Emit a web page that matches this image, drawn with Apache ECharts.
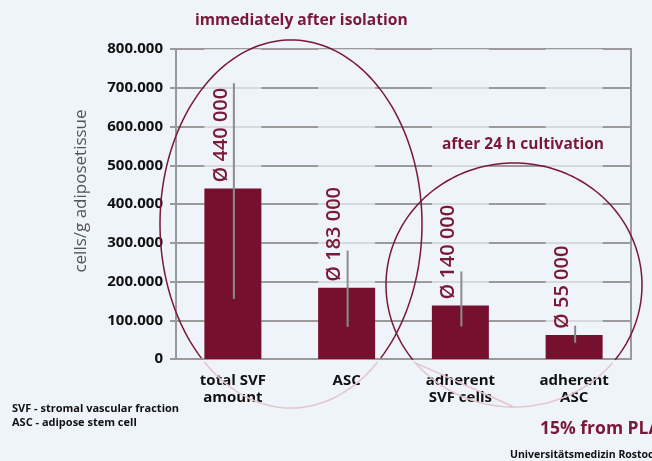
<!DOCTYPE html>
<html>
<head>
<meta charset="utf-8">
<script src="https://cdn.jsdelivr.net/npm/echarts@6/dist/echarts.min.js"></script>
<style>
  html, body { margin: 0; padding: 0; background: #eff3fa; }
  #main { width: 652px; height: 461px; }
</style>
</head>
<body>
<div id="main"></div>
<script>
var categories = ['total SVF\namount', 'ASC', 'adherent\nSVF cells', 'adherent\nASC'];
var means = [440000, 184000, 138000, 62000];
var meanLabels = ['Ø 440 000', 'Ø 183 000', 'Ø 140 000', 'Ø 55 000'];
var errLow = [155000, 83000, 84000, 42000];
var errHigh = [712000, 280000, 226000, 86000];
var yTicks = [0, 100000, 200000, 300000, 400000, 500000, 600000, 700000, 800000];

var red = '#76102f';
var textRed = '#7a1838';
var font = '"Open Sans", Lato, sans-serif';

function fmt(v) {
    if (v == 0) return '0';
    return (v / 1000) + '.000';
}

// annotation ellipse, dark above the x axis and faded below it
function ellipseParts(cx, cy, rx, ry, cutY) {
    var top = [], bottom = [];
    var n = 200;
    for (var i = 0; i <= n; i++) {
        var t = Math.PI / 2 + i / n * Math.PI * 2;
        var p = [cx + rx * Math.cos(t), cy + ry * Math.sin(t)];
        if (p[1] > cutY) bottom.push(p); else top.push(p);
    }
    var b1 = [], b2 = [];
    for (var j = 0; j < bottom.length; j++) {
        if (bottom[j][0] <= cx) b1.push(bottom[j]); else b2.push(bottom[j]);
    }
    var low = b2.concat(b1);
    return [
        { type: 'polyline', z: 10, silent: true, shape: { points: top },
          style: { fill: null, stroke: textRed, lineWidth: 1.5 } },
        { type: 'polyline', z: 10, silent: true, shape: { points: low },
          style: { fill: null, stroke: '#e3c5ce', lineWidth: 1.5 } }
    ];
}

var myChart = echarts.init(document.getElementById('main'));

var texts = [
    { type: 'text', left: 195, top: 13, z: 11,
      style: { text: 'immediately after isolation', fill: textRed, font: 'bold 15.6px ' + font } },
    { type: 'text', left: 442, top: 137, z: 11,
      style: { text: 'after 24 h cultivation', fill: textRed, font: 'bold 15.5px ' + font } },
    { type: 'text', left: 12, top: 403, z: 11,
      style: { text: 'SVF - stromal vascular fraction', fill: '#111', font: 'bold 11px ' + font } },
    { type: 'text', left: 12, top: 417, z: 11,
      style: { text: 'ASC - adipose stem cell', fill: '#111', font: 'bold 11px ' + font } },
    { type: 'text', left: 540, top: 420, z: 11,
      style: { text: '15% from PLA', fill: textRed, font: 'bold 17.5px ' + font } },
    { type: 'text', left: 510, top: 450, z: 11,
      style: { text: 'Universitätsmedizin Rostock', fill: '#111', font: 'bold 10.5px ' + font } }
];

var option = {
    backgroundColor: '#eff3fa',
    animation: false,
    grid: {
        left: 176,
        top: 49,
        right: 21,
        bottom: 102,
        show: true,
        borderColor: '#9a9a9a',
        borderWidth: 2
    },
    xAxis: {
        type: 'category',
        data: categories,
        axisLine: { lineStyle: { color: '#9a9a9a', width: 2 } },
        axisTick: { show: false },
        axisLabel: {
            color: '#111',
            fontFamily: font,
            fontWeight: 'bold',
            fontSize: 15,
            lineHeight: 17,
            margin: 13
        }
    },
    yAxis: {
        type: 'value',
        min: yTicks[0],
        max: yTicks[yTicks.length - 1],
        interval: 100000,
        name: 'cells/g adiposetissue',
        nameLocation: 'middle',
        nameGap: 86,
        nameTextStyle: { color: '#555', fontFamily: font, fontSize: 17, padding: [0, 0, 0, 26] },
        axisLine: { show: true, lineStyle: { color: '#9a9a9a', width: 2 } },
        axisTick: { show: true, length: 6, lineStyle: { color: '#9a9a9a', width: 2 } },
        axisLabel: {
            color: '#111',
            fontFamily: font,
            fontWeight: 'bold',
            fontSize: 15,
            margin: 13,
            formatter: fmt
        },
        splitLine: { lineStyle: { color: '#9a9a9a', width: 2 } }
    },
    series: [
        {
            type: 'bar',
            data: means,
            barWidth: 57,
            itemStyle: { color: red },
            showBackground: true,
            backgroundStyle: { color: 'rgba(240,243,250,0.7)' },
            label: {
                show: true,
                position: 'top',
                rotate: 90,
                align: 'left',
                verticalAlign: 'middle',
                distance: 6,
                offset: [0, -12],
                color: textRed,
                fontFamily: font,
                fontWeight: 600,
                fontSize: 20,
                formatter: function (p) { return meanLabels[p.dataIndex]; }
            }
        },
        {
            type: 'custom',
            z: 5,
            data: errLow.map(function (v, i) { return [i, v, errHigh[i]]; }),
            renderItem: function (params, api) {
                var a = api.coord([api.value(0), api.value(1)]);
                var b = api.coord([api.value(0), api.value(2)]);
                return {
                    type: 'line',
                    shape: { x1: a[0] + 1, y1: a[1], x2: b[0] + 1, y2: b[1] },
                    style: { stroke: '#8c8c8c', lineWidth: 2 }
                };
            }
        }
    ],
    graphic: ellipseParts(291, 224, 131, 184, 361)
        .concat(ellipseParts(514, 285, 128, 122, 361))
        .concat(texts)
};

myChart.setOption(option);
</script>
</body>
</html>
